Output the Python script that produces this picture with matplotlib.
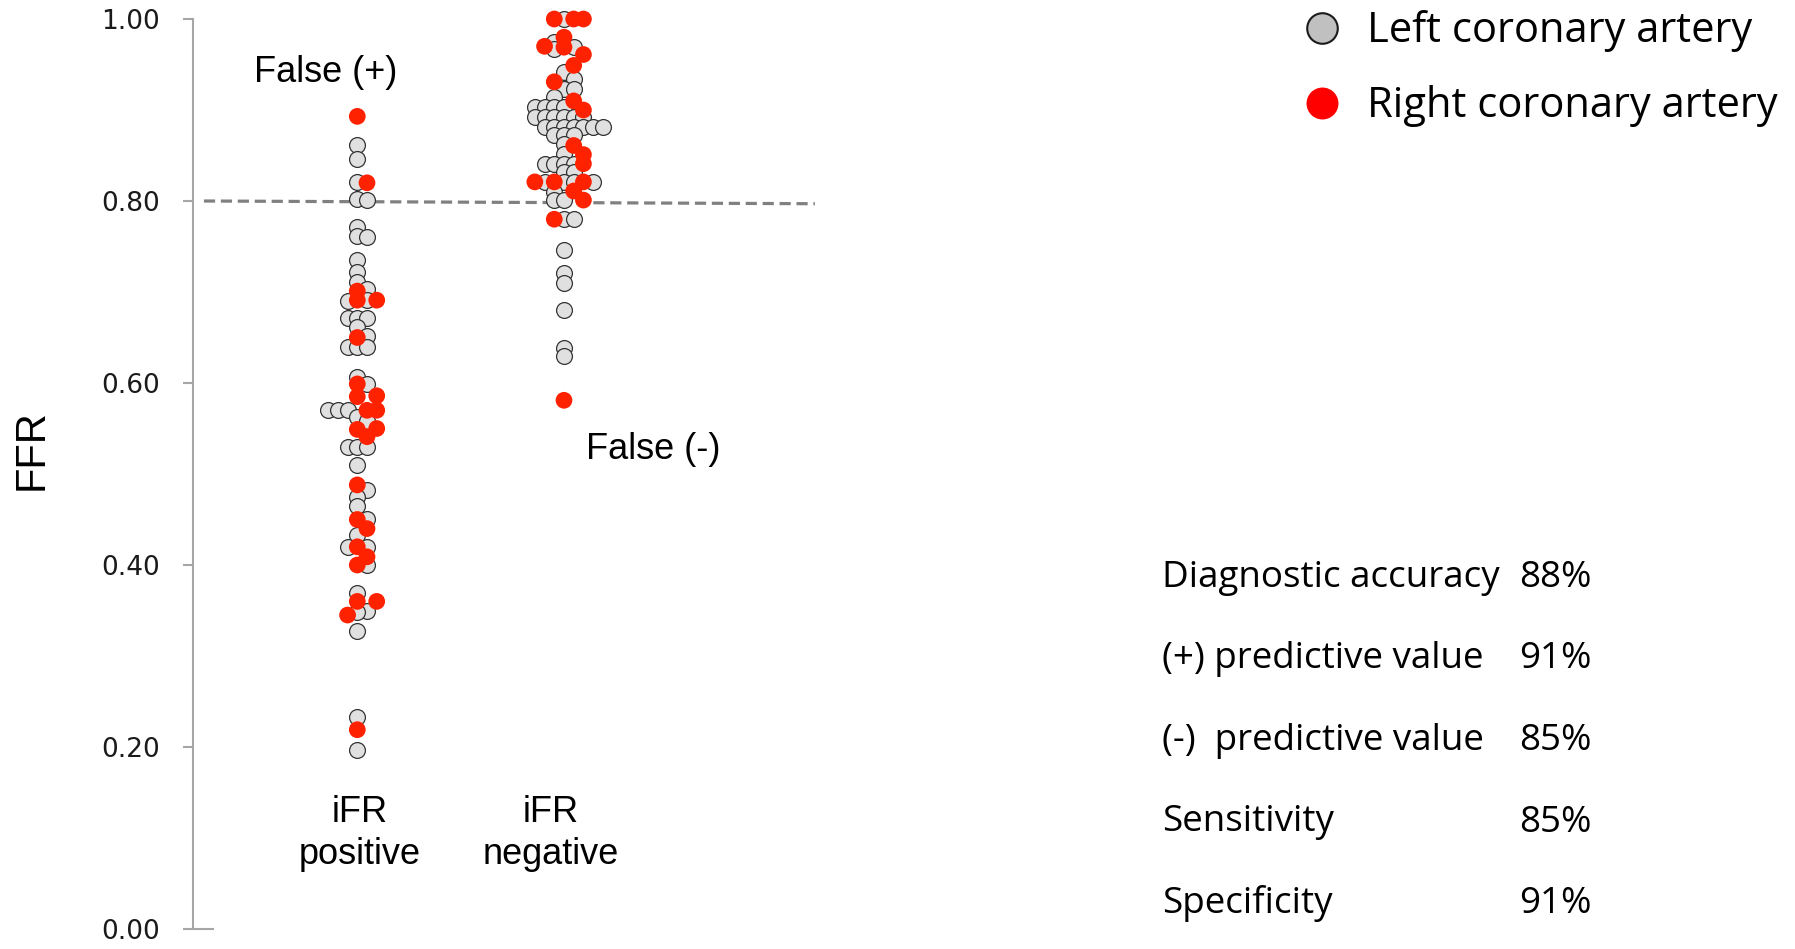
import matplotlib
matplotlib.use("Agg")
import matplotlib.pyplot as plt
from matplotlib.lines import Line2D

# FFR values per lesion, split by iFR result and vessel.
# lane = horizontal slot in the dot column (0 is the centre of the group)
pos_lca_ffr = [0.862, 0.846, 0.821, 0.802, 0.801, 0.771, 0.761, 0.760, 0.735, 0.722,
               0.711, 0.703, 0.690, 0.691, 0.671, 0.671, 0.671, 0.662, 0.652, 0.640,
               0.640, 0.640, 0.607, 0.599, 0.570, 0.570, 0.570, 0.563, 0.558, 0.530,
               0.530, 0.530, 0.510, 0.482, 0.475, 0.465, 0.451, 0.433, 0.420, 0.420,
               0.400, 0.369, 0.350, 0.348, 0.327, 0.233, 0.197]
pos_lca_lane = [0, 0, 0, 0, 1, 0, 0, 1, 0, 0,
                0, 1, -1, 1, -1, 0, 1, 0, 1, -1,
                0, 1, 0, 1, -3, -2, -1, 0, 1, -1,
                0, 1, 0, 1, 0, 0, 1, 0, -1, 1,
                1, 0, 1, 0, 0, 0, 0]

pos_rca_ffr = [0.893, 0.820, 0.701, 0.691, 0.691, 0.650, 0.599, 0.585, 0.586, 0.570,
               0.570, 0.549, 0.550, 0.541, 0.488, 0.450, 0.440, 0.420, 0.409, 0.400,
               0.360, 0.360, 0.345, 0.219]
pos_rca_lane = [0, 1, 0, 0, 2, 0, 0, 0, 2, 1,
                2, 0, 2, 1, 0, 0, 1, 0, 1, 0,
                0, 2, -1, 0]

neg_lca_ffr = [1.000, 0.975, 0.967, 0.969, 0.942, 0.934, 0.923, 0.923, 0.914, 0.903,
               0.903, 0.903, 0.903, 0.892, 0.892, 0.892, 0.892, 0.892, 0.892, 0.881,
               0.881, 0.881, 0.881, 0.881, 0.881, 0.881, 0.872, 0.872, 0.872, 0.863,
               0.852, 0.841, 0.841, 0.841, 0.841, 0.832, 0.832, 0.821, 0.821, 0.821,
               0.821, 0.810, 0.801, 0.801, 0.780, 0.780, 0.746, 0.721, 0.710, 0.680,
               0.638, 0.630]
neg_lca_lane = [0, -1, -1, 1, 0, 1, 0, 1, -1, -3,
                -2, -1, 0, -3, -2, -1, 0, 1, 2, -2,
                -1, 0, 1, 2, 3, 4, -1, 0, 1, 0,
                0, -2, -1, 0, 1, 0, 1, -2, 0, 1,
                3, -1, -1, 0, 0, 1, 0, 0, 0, 0,
                0, 0]

neg_rca_ffr = [1.000, 1.000, 1.000, 0.980, 0.970, 0.969, 0.961, 0.949, 0.931, 0.910,
               0.900, 0.861, 0.851, 0.841, 0.821, 0.821, 0.821, 0.811, 0.801, 0.780,
               0.581]
neg_rca_lane = [-1, 1, 2, 0, -2, 0, 2, 1, -1, 1,
                2, 1, 2, 2, -3, -1, 2, 1, 2, -1,
                0]

group_labels = [("iFR", "positive"), ("iFR", "negative")]
y_ticks = [0.0, 0.2, 0.4, 0.6, 0.8, 1.0]
cutoff = 0.80

legend_labels = ["Left coronary artery", "Right coronary artery"]
stat_names = ["Diagnostic accuracy", "(+) predictive value", "(-)  predictive value",
              "Sensitivity", "Specificity"]
stat_values = ["88%", "91%", "85%", "85%", "91%"]

W, H, DPI = 1795, 949, 100
LANE = 0.047
GRAY_FACE = "#E0E0E0"
RED = "#FF2200"
AXIS_GRAY = "#A6A6A6"


def lane_x(group, lanes):
    return [group + k * LANE for k in lanes]


def fx(px):
    return px / W


def fy(px):
    return 1 - px / H


fig = plt.figure(figsize=(W / DPI, H / DPI), dpi=DPI)
ax = fig.add_axes([fx(192.7), 20 / H, (830 - 192.7) / W, 910 / H])
ax.set_xlim(0.2037, 3.287)
ax.set_ylim(0, 1)

# dots: left coronary first, right coronary on top
dot_kw = dict(s=130, clip_on=False, zorder=3)
ax.scatter(lane_x(1, pos_lca_lane), pos_lca_ffr, facecolor=GRAY_FACE,
           edgecolor="#333333", linewidths=0.9, **dot_kw)
ax.scatter(lane_x(2, neg_lca_lane), neg_lca_ffr, facecolor=GRAY_FACE,
           edgecolor="#333333", linewidths=0.9, **dot_kw)
red_kw = dict(s=145, clip_on=False, zorder=4, facecolor=RED, edgecolor="none")
ax.scatter(lane_x(1, pos_rca_lane), pos_rca_ffr, **red_kw)
ax.scatter(lane_x(2, neg_rca_lane), neg_rca_ffr, **red_kw)

# FFR 0.80 cut-off
ax.plot([0.258, 3.214], [cutoff, cutoff - 0.003], color="#808080", lw=2.3,
        linestyle=(0, (3.5, 1.8)), zorder=2)

# axes styling
for side in ("top", "right"):
    ax.spines[side].set_visible(False)
ax.spines["left"].set_color(AXIS_GRAY)
ax.spines["left"].set_linewidth(1.5)
ax.spines["bottom"].set_color(AXIS_GRAY)
ax.spines["bottom"].set_linewidth(1.5)
ax.spines["bottom"].set_bounds(0.2037, 0.30)
ax.set_xticks([])
ax.set_yticks(y_ticks)
ax.set_yticklabels([f"{v:.2f}" for v in y_ticks])
ax.tick_params(axis="y", length=7.2, width=1.5, color=AXIS_GRAY, pad=16.5,
               labelsize=19, labelcolor="#1a1a1a")
for lbl in ax.get_yticklabels():
    lbl.set_family("DejaVu Sans")

ann_font = dict(family="Liberation Sans", fontsize=26, color="black")
ax.text(0.5, 0.9306, "False (+)", ha="left", va="baseline", **ann_font)
ax.text(2.106, 0.516, "False (-)", ha="left", va="baseline", **ann_font)

# group names under each column
for gx, (top, bottom) in zip([1.01, 1.935], group_labels):
    ax.text(gx, 0.1175, top, ha="center", va="baseline", **ann_font)
    ax.text(gx, 0.0715, bottom, ha="center", va="baseline", **ann_font)

fig.text(fx(32), fy(450), "FFR", rotation=90, ha="center", va="center",
         family="Liberation Sans", fontsize=30)

# legend, laid out by hand
legend_styles = [
    dict(ms=22, mfc="#C0C0C0", mec="#1a1a1a", mew=1.5),
    dict(ms=23, mfc="#FF0000", mec="none"),
]
for i, (label, style) in enumerate(zip(legend_labels, legend_styles)):
    yc = 29 + i * 75.5
    fig.add_artist(Line2D([fx(1322)], [fy(yc - 1.5)], marker="o", ls="none",
                          transform=fig.transFigure, **style))
    fig.text(fx(1367), fy(yc + 12.5), label, ha="left", va="baseline",
             family="Open Sans", fontsize=30)

# summary statistics
for i, (name, val) in enumerate(zip(stat_names, stat_values)):
    yb = 586.7 + i * 81.6
    fig.text(fx(1161.7), fy(yb), name, ha="left", va="baseline",
             family="Open Sans", fontsize=26.5)
    fig.text(fx(1592), fy(yb), val, ha="right", va="baseline",
             family="Open Sans", fontsize=26.5)

fig.savefig("out.png", dpi=DPI)
